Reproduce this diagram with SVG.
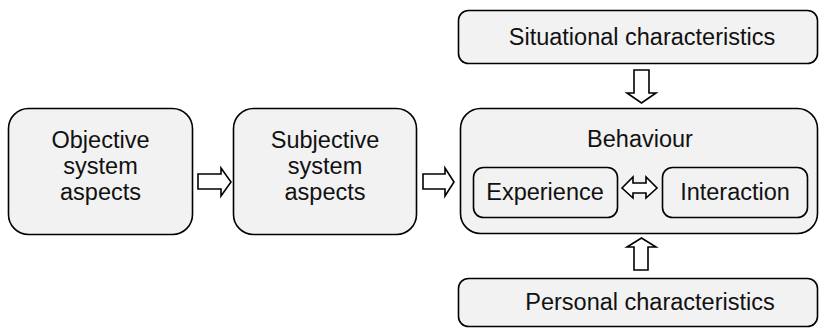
<svg xmlns="http://www.w3.org/2000/svg" width="819" height="328" viewBox="0 0 819 328">
<style>
.box{fill:#f2f2f2;stroke:#000;stroke-width:1.6}
.arr{fill:#fff;stroke:#000;stroke-width:1.6;stroke-linejoin:miter}
text{font-family:"Liberation Sans",Arial,sans-serif;font-size:23.5px;fill:#111;text-anchor:middle}
</style>
<rect width="819" height="328" fill="#fff"/>
<g id="objective">
<rect class="box" x="8.5" y="108.5" width="184" height="126" rx="20"/>
<text x="100.5" y="148">Objective</text>
<text x="100.5" y="174">system</text>
<text x="100.5" y="200">aspects</text>
</g>
<g id="subjective">
<rect class="box" x="233.5" y="108.5" width="183" height="126" rx="20"/>
<text x="325" y="148">Subjective</text>
<text x="325" y="174">system</text>
<text x="325" y="200">aspects</text>
</g>
<g id="situational">
<rect class="box" x="458.5" y="10.5" width="359" height="53" rx="10"/>
<text x="642" y="45">Situational characteristics</text>
</g>
<g id="behaviour">
<rect class="box" x="460.5" y="108.5" width="357" height="125" rx="20"/>
<text x="640" y="147">Behaviour</text>
</g>
<g id="experience">
<rect class="box" x="473.5" y="167.5" width="144" height="50" rx="10"/>
<text x="545" y="200">Experience</text>
</g>
<g id="interaction">
<rect class="box" x="662.5" y="167.5" width="145" height="50" rx="10"/>
<text x="735" y="200">Interaction</text>
</g>
<g id="personal">
<rect class="box" x="458.5" y="278.5" width="359" height="48" rx="10"/>
<text x="650" y="310">Personal characteristics</text>
</g>
<g id="connectors">
<polygon class="arr" points="198,174 221,174 221,168 231,182 221,196 221,189 198,189"/>
<polygon class="arr" points="423,174 445,174 445,168 454,182 445,196 445,189 423,189"/>
<polygon class="arr" points="634,70 649,70 649,93 656,93 641.5,103 627,93 634,93"/>
<polygon class="arr" points="634,270 648,270 648,247 656,247 641.5,238 627,247 634,247"/>
<polygon class="arr" points="622,188 633,177 633,183 646,183 646,177 657,188 646,198 646,193 633,193 633,198"/>
</g>
</svg>
